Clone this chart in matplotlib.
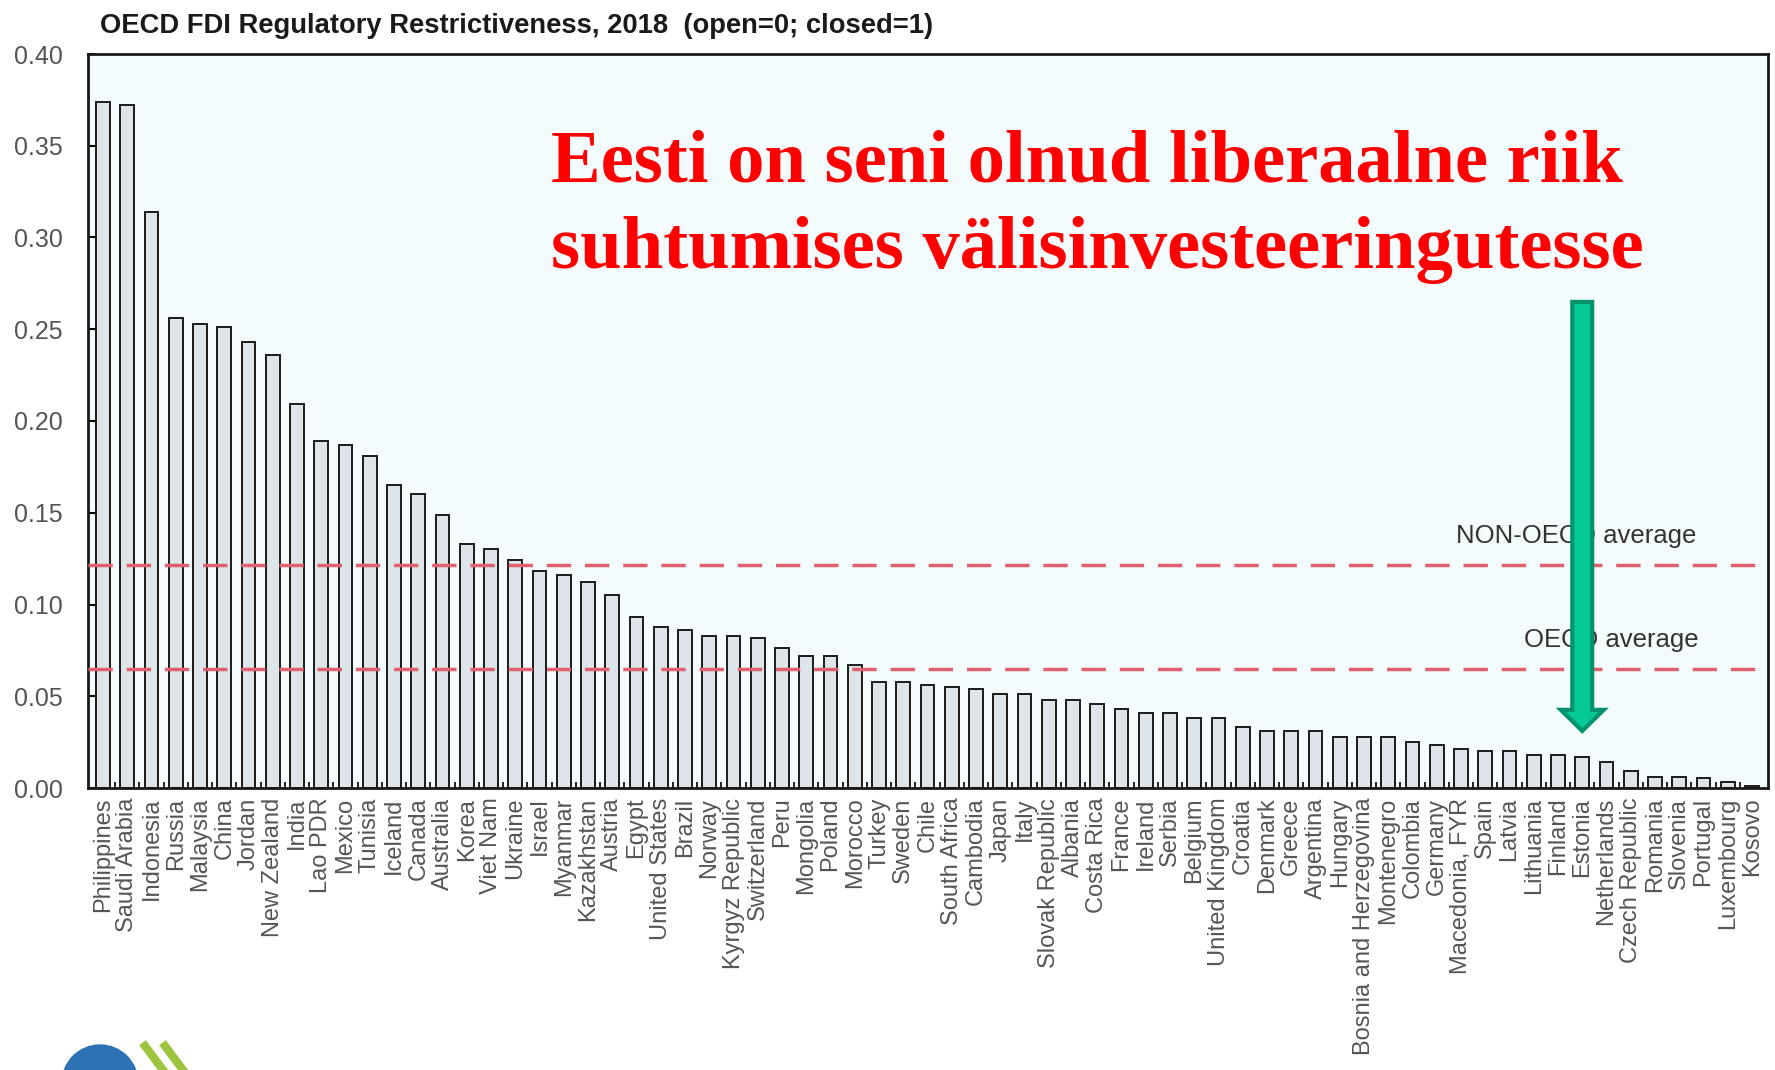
import matplotlib
matplotlib.use("Agg")
import matplotlib.pyplot as plt
import numpy as np
from matplotlib.patches import FancyArrow, Ellipse
from matplotlib.lines import Line2D

countries = [
    "Philippines", "Saudi Arabia", "Indonesia", "Russia", "Malaysia", "China",
    "Jordan", "New Zealand", "India", "Lao PDR", "Mexico", "Tunisia", "Iceland",
    "Canada", "Australia", "Korea", "Viet Nam", "Ukraine", "Israel", "Myanmar",
    "Kazakhstan", "Austria", "Egypt", "United States", "Brazil", "Norway",
    "Kyrgyz Republic", "Switzerland", "Peru", "Mongolia", "Poland", "Morocco",
    "Turkey", "Sweden", "Chile", "South Africa", "Cambodia", "Japan", "Italy",
    "Slovak Republic", "Albania", "Costa Rica", "France", "Ireland", "Serbia",
    "Belgium", "United Kingdom", "Croatia", "Denmark", "Greece", "Argentina",
    "Hungary", "Bosnia and Herzegovina", "Montenegro", "Colombia", "Germany",
    "Macedonia, FYR", "Spain", "Latvia", "Lithuania", "Finland", "Estonia",
    "Netherlands", "Czech Republic", "Romania", "Slovenia", "Portugal",
    "Luxembourg", "Kosovo",
]
scores = [
    0.374, 0.372, 0.314, 0.256, 0.253, 0.251, 0.243, 0.236, 0.209, 0.189,
    0.187, 0.181, 0.165, 0.160, 0.149, 0.133, 0.130, 0.124, 0.118, 0.116,
    0.112, 0.105, 0.093, 0.088, 0.086, 0.083, 0.083, 0.0815, 0.0765, 0.072,
    0.072, 0.067, 0.058, 0.058, 0.056, 0.055, 0.054, 0.051, 0.051, 0.048,
    0.048, 0.046, 0.043, 0.041, 0.041, 0.038, 0.038, 0.033, 0.031, 0.031,
    0.031, 0.028, 0.028, 0.028, 0.025, 0.0235, 0.0215, 0.020, 0.020, 0.018,
    0.018, 0.0167, 0.014, 0.009, 0.006, 0.006, 0.0055, 0.003, 0.0012,
]
non_oecd_avg = 0.1215
oecd_avg = 0.0649
highlight = "Estonia"

sans = ["Liberation Sans", "DejaVu Sans"]

W, H = 1775, 1070
fig = plt.figure(figsize=(W / 100, H / 100), dpi=100)
fig.patch.set_facecolor("white")
ax = fig.add_axes([88 / W, 1 - 788 / H, 1680 / W, 734 / H])
ax.set_facecolor("#f4fbfd")

x = np.arange(len(countries))
ax.bar(x, scores, width=0.57, color="#dde5ea", edgecolor="#1a1a1a", linewidth=1.4, zorder=2)

# average lines
for val in (non_oecd_avg, oecd_avg):
    ax.axhline(val, color="#e0606e", lw=2.5, linestyle=(0, (7, 4)), zorder=3)

ax.set_xlim(-0.62, len(countries) - 0.34)
ax.set_ylim(0, 0.40)
ax.set_yticks(np.arange(0, 0.401, 0.05))
ax.set_yticklabels([f"{v:.2f}" for v in np.arange(0, 0.401, 0.05)], family=sans,
                   fontsize=18, color="#555555")
ax.tick_params(axis="y", direction="in", length=6, width=1.5, pad=18)
ax.set_xticks(x)
ax.set_xticklabels(countries, rotation=90, family=sans, fontsize=17,
                   color="#555555", va="top", ha="center")
ax.tick_params(axis="x", length=0, pad=7)
ax.set_xticks(x[:-1] + 0.5, minor=True)
ax.tick_params(axis="x", which="minor", direction="in", length=4, width=1.2)
for s in ax.spines.values():
    s.set_linewidth(2)
    s.set_color("#1a1a1a")

# average labels
ax.text(len(countries) - 3.3, non_oecd_avg + 0.012, "NON-OECD average", ha="right",
        va="baseline", family=sans, fontsize=18.5, color="#333333", zorder=4)
ax.text(len(countries) - 3.2, oecd_avg + 0.012, "OECD average", ha="right",
        va="baseline", family=sans, fontsize=18.5, color="#333333", zorder=4)

# arrow pointing to Estonia
i_hl = countries.index(highlight)
y_top, y_tip = 0.2649, 0.0311
ax.add_patch(FancyArrow(i_hl, y_top, 0, -(y_top - y_tip), width=0.82, head_width=1.77,
                        head_length=0.0115, length_includes_head=True,
                        fc="#05c994", ec="#00926c", lw=3, zorder=6))

# titles
fig.text(100 / W, 1 - 33 / H, "OECD FDI Regulatory Restrictiveness, 2018  (open=0; closed=1)",
         family=sans, fontsize=19.7, fontweight="bold", color="#1a1a1a", va="baseline")
fig.text(551 / W, 1 - 181 / H, "Eesti on seni olnud liberaalne riik",
         family="Liberation Serif", fontsize=53.7, fontweight="bold", color="#ff0000", va="baseline")
fig.text(551 / W, 1 - 268 / H, "suhtumises välisinvesteeringutesse",
         family="Liberation Serif", fontsize=53.7, fontweight="bold", color="#ff0000", va="baseline")

# logo fragment, bottom left
fig.add_artist(Ellipse((100 / W, 1 - 1083 / H), 76 / W, 76 / H, transform=fig.transFigure,
                       color="#2b73b5", clip_on=False))
for x0 in (145, 165):
    fig.add_artist(Line2D([x0 / W, (x0 + 18) / W], [1 - 1046 / H, 1 - 1070 / H],
                          transform=fig.transFigure, color="#9cc43f", lw=6))

fig.savefig("out.png", dpi=100)
